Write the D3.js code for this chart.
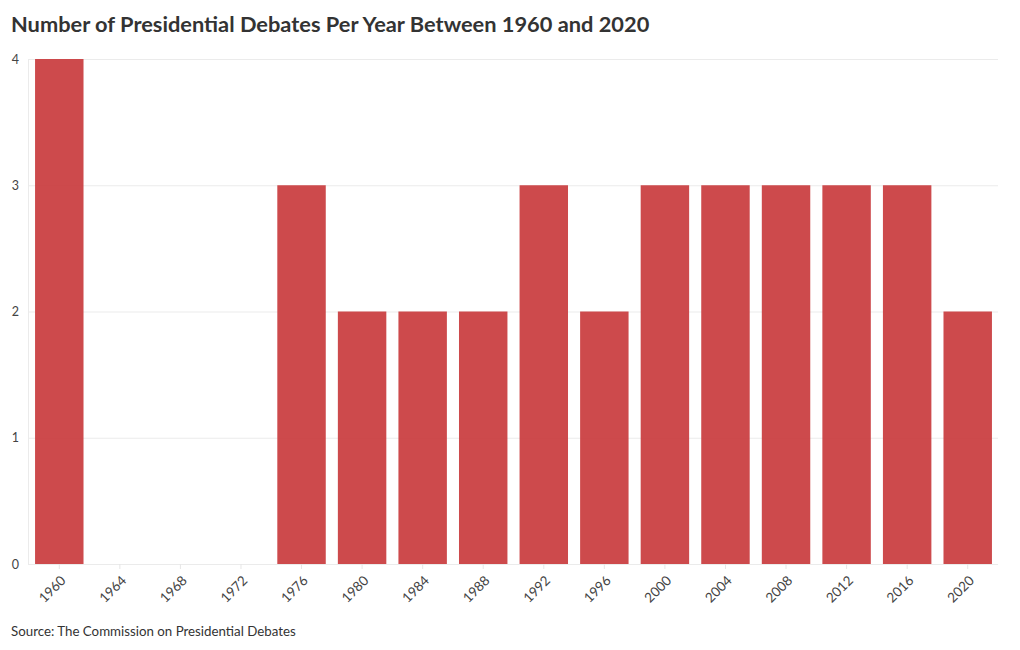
<!DOCTYPE html>
<html><head><meta charset="utf-8">
<script src="https://cdn.jsdelivr.net/npm/d3@7"></script>
<style>
body{margin:0;background:#fff;}
text{font-family:"Source Sans Pro","Lato","Open Sans",sans-serif;}
</style></head><body>
<svg id="c" width="1020" height="650"></svg>
<script>
const years = ["1960","1964","1968","1972","1976","1980","1984","1988","1992","1996","2000","2004","2008","2012","2016","2020"];
const debates = [4,0,0,0,3,2,2,2,3,2,3,3,3,3,3,2];
const yTicks = [0,1,2,3,4];
const title = "Number of Presidential Debates Per Year Between 1960 and 2020";
const source = "Source: The Commission on Presidential Debates";

const svg = d3.select("#c");
const m = {left:29, right:22, top:59, bottom:86};
const W = 1020, H = 650;
const x = d3.scaleBand().domain(years).range([m.left, W-m.right]).paddingInner(0.2).paddingOuter(0.1);
const y = d3.scaleLinear().domain([0,4]).range([H-m.bottom, m.top]);

svg.append("text").attr("x",11).attr("y",32).attr("font-size",21.8).attr("font-weight",700)
  .attr("fill","#333").text(title);

// gridlines
svg.append("g").selectAll("line").data(yTicks).join("line")
  .attr("x1",m.left-1).attr("x2",W-m.right).attr("y1",d=>y(d)+0.5).attr("y2",d=>y(d)+0.5)
  .attr("stroke","#ebebeb").attr("stroke-width",1);
// y axis line
svg.append("line").attr("x1",m.left-0.5).attr("x2",m.left-0.5).attr("y1",y(4)).attr("y2",y(0))
  .attr("stroke","#ebebeb");

// y axis labels
const ya = svg.append("g").attr("transform",`translate(${m.left-10},0)`)
  .call(d3.axisLeft(y).tickValues(yTicks).tickFormat(d3.format("d")).tickSize(0).tickPadding(0));
ya.select(".domain").remove();
ya.selectAll("text").attr("font-size",12.5).attr("fill","#444").attr("font-family",null);

// bars
svg.append("g").selectAll("rect").data(years.map((d,i)=>({y:d,v:debates[i]}))).join("rect")
  .attr("x",d=>x(d.y)).attr("width",x.bandwidth())
  .attr("y",d=>y(d.v)).attr("height",d=>y(0)-y(d.v))
  .attr("fill","#c93b3d").attr("fill-opacity",0.92);

// x axis
const xa = svg.append("g").attr("transform",`translate(0,${y(0)})`)
  .call(d3.axisBottom(x).tickSize(5).tickPadding(4));
xa.select(".domain").remove();
xa.selectAll(".tick line").attr("stroke","#e6e6e6");
xa.selectAll("text").attr("font-size",13.5).attr("fill","#444").attr("font-family",null)
  .attr("text-anchor","end").attr("y",0).attr("dy","0.35em")
  .attr("transform","translate(4,14) rotate(-45)");

svg.append("text").attr("x",11).attr("y",636).attr("font-size",13.3).attr("fill","#333").text(source);
</script></body></html>
